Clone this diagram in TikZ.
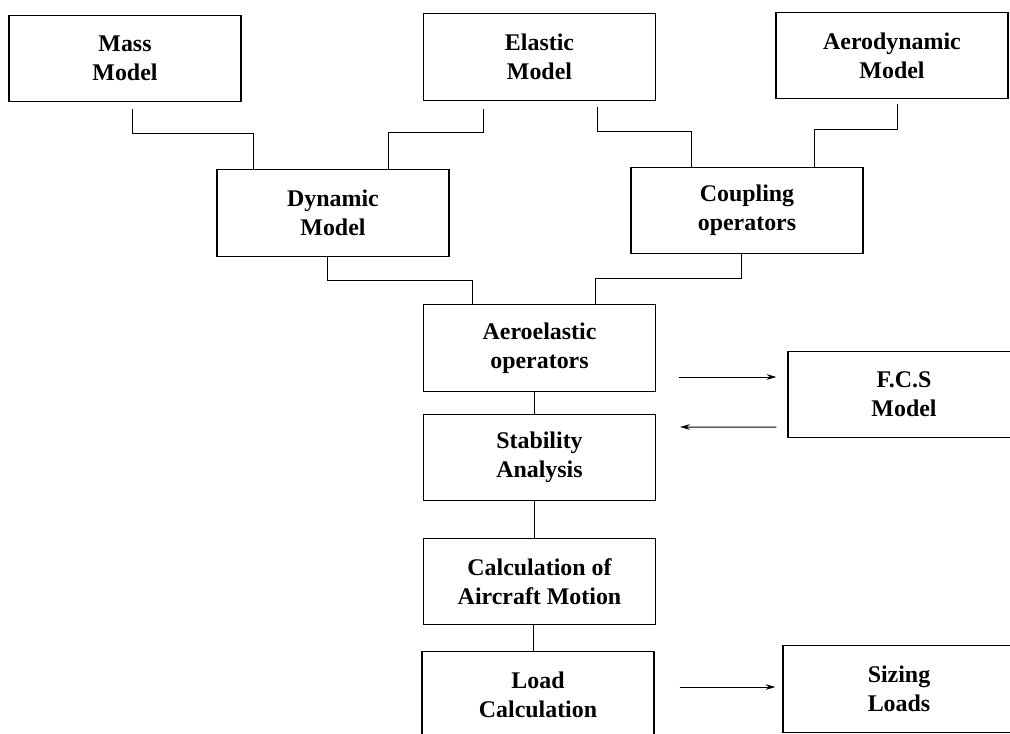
\documentclass[tikz,border=0pt]{standalone}
\usepackage{fontspec}
\setmainfont{Liberation Serif}
\usetikzlibrary{calc,arrows.meta}

\begin{document}
\begin{tikzpicture}[x=0.025cm, y=-0.025cm,
		block/.style={draw, line width=0.8pt, minimum width=5.8cm, minimum height=2.17cm,
			inner sep=0pt, align=center, font=\bfseries\fontsize{17}{20.5}\selectfont},
		link/.style={line width=0.7pt},
		arr/.style={line width=0.7pt, -{Stealth[length=7pt,width=4pt]}}]
		\useasboundingbox (0,0) rectangle (1010,733);
		\clip (0,0) rectangle (1010,733);

		% models
		\node[block] (mass) at (125,58.5) {Mass\\Model};
		\node[block] (elastic) at (539.5,57) {Elastic\\Model};
		\node[block] (aero) at (892,55.5) {Aerodynamic\\Model};

		\node[block] (dyn) at (333,213) {Dynamic\\Model};
		\node[block] (coup) at (747,210.5) {Coupling\\operators};

		% main chain
		\node[block] (aeroel) at (539.5,348) {Aeroelastic\\operators};
		\node[block] (stab) at (539.5,457.5) {Stability\\Analysis};
		\node[block] (calc) at (539.5,581.5) {Calculation of\\Aircraft Motion};
		\node[block] (load) at (538,695) {Load\\Calculation};

		\node[block] (fcs) at (904,394.5) {F.C.S\\Model};
		\node[block] (sizing) at (899,689) {Sizing\\Loads};

		% connectors
		\draw[link] ($(mass.south)+(7,7)$) |- ($(dyn.north west)+(37,-36)$) -- ($(dyn.north west)+(37,0)$);
		\draw[link] ($(elastic.south west)+(61,8)$) |- ($(dyn.north east)+(-61,-37)$) -- ($(dyn.north east)+(-61,0)$);
		\draw[link] ($(elastic.south east)+(-59,6)$) |- ($(coup.north west)+(61,-35)$) -- ($(coup.north west)+(61,0)$);
		\draw[link] ($(aero.south)+(5,5)$) |- ($(coup.north east)+(-49,-37)$) -- ($(coup.north east)+(-49,0)$);

		\draw[link] ($(dyn.south)+(-6,0)$) |- ($(aeroel.north west)+(50,-24)$) -- ($(aeroel.north west)+(50,0)$);
		\draw[link] ($(coup.south)+(-6,0)$) |- ($(aeroel.north east)+(-61,-26)$) -- ($(aeroel.north east)+(-61,0)$);

		\draw[link] ($(aeroel.south)+(-5.5,0)$) -- ($(stab.north)+(-5.5,0)$);
		\draw[link] ($(stab.south)+(-5.5,0)$) -- ($(calc.north)+(-5.5,0)$);
		\draw[link] ($(calc.south)+(-6.5,0)$) -- ($(load.north)+(-5,0)$);

		\draw[arr] ($(aeroel.east)+(23,29)$) -- ($(fcs.west)+(-11,-17.5)$);
		\draw[arr] ($(fcs.west)+(-11,32.5)$) -- ($(stab.east)+(24,-30.5)$);
		\draw[arr] ($(load.east)+(25,-8)$) -- ($(sizing.west)+(-7,-2)$);
	\end{tikzpicture}
\end{document}
